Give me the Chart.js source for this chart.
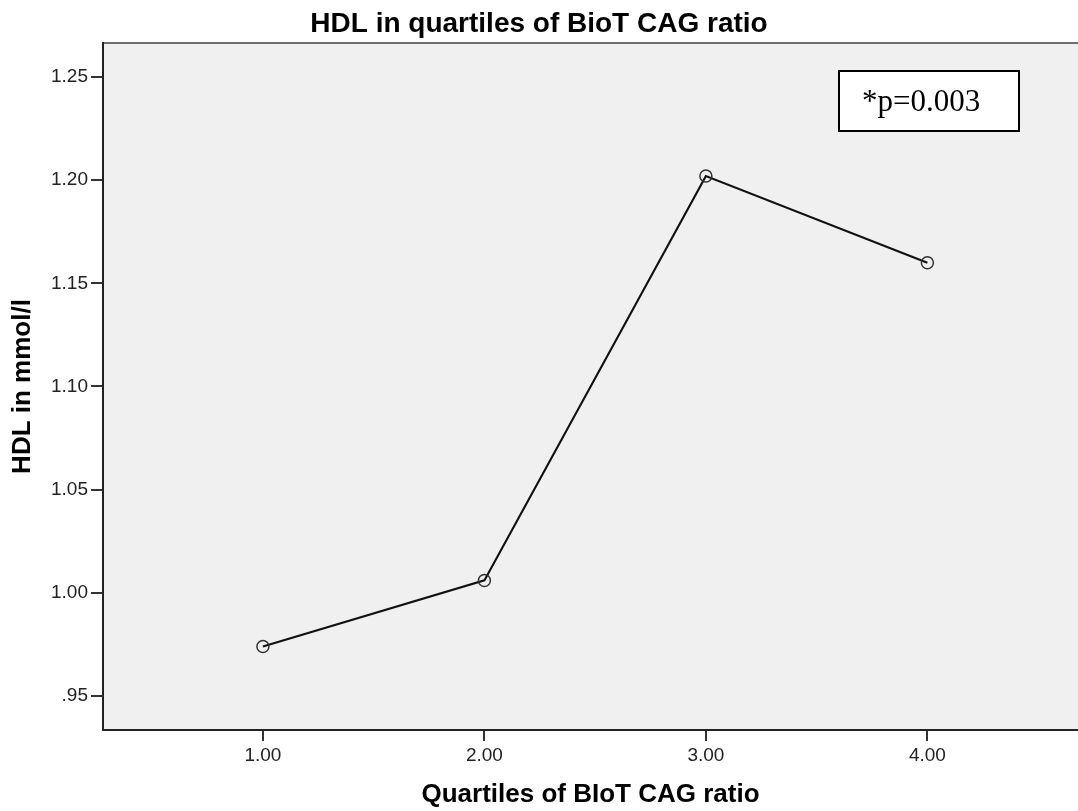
<!DOCTYPE html>
<html>
<head>
<meta charset="utf-8">
<script src="https://cdn.jsdelivr.net/npm/chart.js@4/dist/chart.umd.min.js"></script>
<style>
  html, body { margin: 0; padding: 0; background: #fff; overflow: hidden; }
</style>
</head>
<body>
<canvas id="hdlChart" width="1078" height="811"></canvas>
<script>
// chart values
const quartiles = [1, 2, 3, 4];
const hdlMeans = [0.974, 1.006, 1.202, 1.160];
const xTicks = [1, 2, 3, 4];
const yTicks = [0.95, 1.00, 1.05, 1.10, 1.15, 1.20, 1.25];
const pValueText = "*p=0.003";

// plot background + top frame + p-value box
const spssFrame = {
  id: "spssFrame",
  beforeDraw(chart) {
    const { ctx, chartArea: a } = chart;
    ctx.save();
    ctx.fillStyle = "#f0f0f0";
    ctx.fillRect(a.left, a.top, a.right - a.left, a.bottom - a.top);
    ctx.strokeStyle = "#6e6e6e";
    ctx.lineWidth = 2;
    ctx.beginPath();
    ctx.moveTo(a.left, a.top);
    ctx.lineTo(a.right, a.top);
    ctx.stroke();
    ctx.restore();
  },
  afterDraw(chart) {
    const ctx = chart.ctx;
    ctx.save();
    ctx.fillStyle = "#fff";
    ctx.fillRect(839, 71, 180, 60);
    ctx.strokeStyle = "#000";
    ctx.lineWidth = 2;
    ctx.strokeRect(839, 71, 180, 60);
    ctx.fillStyle = "#000";
    ctx.font = "31px 'Liberation Serif', 'Times New Roman', serif";
    ctx.textBaseline = "alphabetic";
    ctx.fillText(pValueText, 862, 111);
    ctx.restore();
  }
};

const ctx = document.getElementById("hdlChart");

new Chart(ctx, {
  type: "line",
  data: {
    datasets: [{
      data: quartiles.map((q, i) => ({ x: q, y: hdlMeans[i] })),
      borderColor: "#111",
      borderWidth: 2.2,
      tension: 0,
      fill: false,
      pointRadius: 6,
      pointBorderWidth: 1.5,
      pointBorderColor: "#333",
      pointBackgroundColor: "rgba(0,0,0,0)",
    }]
  },
  options: {
    responsive: false,
    animation: false,
    layout: { padding: 0, autoPadding: false },
    scales: {
      x: {
        type: "linear",
        min: 0.278,
        max: 4.68,
        afterBuildTicks: (scale) => { scale.ticks = xTicks.map(v => ({ value: v })); },
        afterFit: (scale) => { scale.height = 81; },
        grid: { drawOnChartArea: false, drawTicks: true, tickLength: 11, color: "#333", lineWidth: 2 },
        border: { color: "#222", width: 2 },
        ticks: {
          padding: 3,
          color: "#222",
          font: { family: "'Liberation Sans', Arial, sans-serif", size: 19 },
          callback: (v) => v.toFixed(2),
        },
        title: {
          display: true,
          text: "Quartiles of BIoT CAG ratio",
          color: "#000",
          font: { family: "'Liberation Sans', Arial, sans-serif", size: 26, weight: "bold" },
          padding: { top: 0, bottom: 1 },
        },
      },
      y: {
        min: 0.9335,
        max: 1.2665,
        afterBuildTicks: (scale) => { scale.ticks = yTicks.map(v => ({ value: v })); },
        afterFit: (scale) => { scale.width = 103; },
        grid: { drawOnChartArea: false, drawTicks: true, tickLength: 12, color: "#333", lineWidth: 2 },
        border: { color: "#222", width: 2 },
        ticks: {
          padding: 3,
          color: "#222",
          font: { family: "'Liberation Sans', Arial, sans-serif", size: 19 },
          callback: (v) => v.toFixed(2).replace(/^0/, ""),
        },
        title: {
          display: true,
          text: "HDL in mmol/l",
          color: "#000",
          font: { family: "'Liberation Sans', Arial, sans-serif", size: 26, weight: "bold" },
          padding: { top: 7, bottom: 0 },
        },
      },
    },
    plugins: {
      legend: { display: false },
      tooltip: { enabled: false },
      title: {
        display: true,
        text: "HDL in quartiles of BioT CAG ratio",
        color: "#000",
        font: { family: "'Liberation Sans', Arial, sans-serif", size: 28, weight: "bold" },
        padding: { top: 7, bottom: 2.4 },
      },
    },
  },
  plugins: [spssFrame],
});
</script>
</body>
</html>
